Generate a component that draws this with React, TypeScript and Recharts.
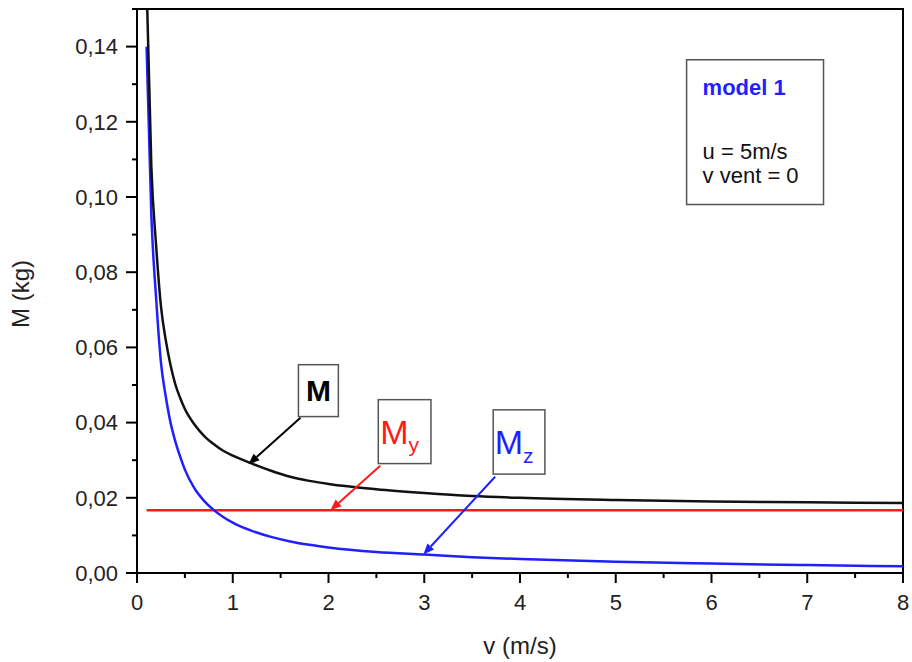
import React from 'react';
import { LineChart, Line, XAxis, YAxis, ReferenceArea, ReferenceLine } from 'recharts';

const vValues = [0.1, 0.15, 0.2, 0.25, 0.3, 0.35, 0.4, 0.45, 0.5, 0.6, 0.7, 0.8, 0.9, 1.0, 1.2, 1.4, 1.6, 1.8, 2.0, 2.5, 3.0, 3.5, 4.0, 5.0, 6.0, 7.0, 8.0];
const mValues = [0.157, 0.108, 0.087, 0.071, 0.062, 0.0553, 0.0502, 0.0466, 0.0436, 0.0395, 0.0365, 0.0343, 0.0325, 0.0312, 0.0291, 0.0272, 0.0256, 0.0245, 0.0237, 0.0223, 0.0213, 0.0205, 0.02, 0.0194, 0.019, 0.0188, 0.0186];
const myValues = [0.0167, 0.0167, 0.0167, 0.0167, 0.0167, 0.0167, 0.0167, 0.0167, 0.0167, 0.0167, 0.0167, 0.0167, 0.0167, 0.0167, 0.0167, 0.0167, 0.0167, 0.0167, 0.0167, 0.0167, 0.0167, 0.0167, 0.0167, 0.0167, 0.0167, 0.0167, 0.0167];
const mzValues = [0.14, 0.095, 0.073, 0.056, 0.047, 0.04, 0.035, 0.031, 0.0275, 0.0225, 0.0192, 0.0168, 0.0149, 0.0134, 0.0112, 0.0096, 0.0084, 0.0075, 0.0068, 0.0056, 0.0049, 0.0042, 0.0037, 0.003, 0.0025, 0.0021, 0.0018];

const xMajorTicks = [0, 1, 2, 3, 4, 5, 6, 7, 8];
const xMinorTicks = [0.5, 1.5, 2.5, 3.5, 4.5, 5.5, 6.5, 7.5];
const yMajorTicks = [0, 0.02, 0.04, 0.06, 0.08, 0.1, 0.12, 0.14];
const yMinorTicks = [0.01, 0.03, 0.05, 0.07, 0.09, 0.11, 0.13, 0.15];

const xLabel = 'v (m/s)';
const yLabel = 'M (kg)';
const infoTitle = 'model 1';
const infoLines = ['u = 5m/s', 'v vent = 0'];

const data = vValues.map((v, i) => ({ v, M: mValues[i], My: myValues[i], Mz: mzValues[i] }));

const FONT = '"Liberation Sans", Arial, sans-serif';
const BLUE = '#1f1fff';
const RED = '#ff1a1a';

const xTicks = [...xMajorTicks, ...xMinorTicks].sort((a, b) => a - b);
const yTicks = [...yMajorTicks, ...yMinorTicks].sort((a, b) => a - b);

const XTick = (props: any) => {
  const { x, y, payload } = props;
  const val = payload.value;
  const major = xMajorTicks.includes(val);
  return (
    <g>
      <line x1={x} y1={y} x2={x} y2={y + (major ? 10 : 5)} stroke="#000" strokeWidth={2} />
      {major && (
        <text x={x} y={y + 29} dy="0.35em" textAnchor="middle" fontSize={22} fontFamily={FONT} fill="#222">
          {String(val)}
        </text>
      )}
    </g>
  );
};

const YTick = (props: any) => {
  const { x, y, payload } = props;
  const val = payload.value;
  const major = yMajorTicks.some((t) => Math.abs(t - val) < 1e-9);
  return (
    <g>
      <line x1={x} y1={y} x2={x - (major ? 11 : 5)} y2={y} stroke="#000" strokeWidth={2} />
      {major && (
        <text x={x - 19} y={y} dy="0.35em" textAnchor="end" fontSize={22} fontFamily={FONT} fill="#222">
          {val.toFixed(2).replace('.', ',')}
        </text>
      )}
    </g>
  );
};

const arrowShape = (color: string) => (props: any) => {
  const { x1, y1, x2, y2 } = props;
  const dx = x2 - x1;
  const dy = y2 - y1;
  const len = Math.sqrt(dx * dx + dy * dy) || 1;
  const ux = dx / len;
  const uy = dy / len;
  const hl = 11;
  const hw = 4.5;
  const bx = x2 - ux * hl;
  const by = y2 - uy * hl;
  const px = -uy;
  const py = ux;
  return (
    <g>
      <line x1={x1} y1={y1} x2={bx} y2={by} stroke={color} strokeWidth={2} />
      <polygon points={`${x2},${y2} ${bx + px * hw},${by + py * hw} ${bx - px * hw},${by - py * hw}`} fill={color} />
    </g>
  );
};

const labelBox = (main: string, sub: string | null, color: string, bold: boolean, size: number) => (props: any) => {
  const { x, y, width, height } = props;
  return (
    <g>
      <rect x={x} y={y} width={width} height={height} fill="#fff" stroke="#555" strokeWidth={1.5} />
      <text
        x={x + width / 2 - (sub ? 5 : 0)}
        y={y + height / 2}
        dy="0.36em"
        textAnchor="middle"
        fontSize={size}
        fontWeight={bold ? 'bold' : 'normal'}
        fontFamily={FONT}
        fill={color}
      >
        {main}
        {sub && (
          <tspan fontSize={21} dy="0.4em">
            {sub}
          </tspan>
        )}
      </text>
    </g>
  );
};

const infoBox = (props: any) => {
  const { x, y, width, height } = props;
  return (
    <g>
      <rect x={x} y={y} width={width} height={height} fill="#fff" stroke="#555" strokeWidth={1.5} />
      <text x={x + 16} y={y + 35} fontSize={22} fontWeight="bold" fontFamily={FONT} fill={BLUE}>
        {infoTitle}
      </text>
      {infoLines.map((t, i) => (
        <text key={t} x={x + 16} y={y + 99 + i * 24} fontSize={22} fontFamily={FONT} fill="#111">
          {t}
        </text>
      ))}
    </g>
  );
};

const frameShape = (props: any) => {
  const { x, y, width, height } = props;
  return <rect x={x} y={y} width={width} height={height} fill="none" stroke="#000" strokeWidth={2} />;
};

export default function App() {
  return (
    <div style={{ position: 'absolute', left: 0, top: 0, width: 912, height: 662, background: '#fff' }}>
      <LineChart width={912} height={662} data={data} margin={{ top: 9, right: 9, bottom: 0, left: 0 }}>
        <XAxis
          dataKey="v"
          type="number"
          domain={[0, 8]}
          ticks={xTicks}
          interval={0}
          tickSize={0}
          tickMargin={0}
          tick={<XTick />}
          height={89}
          axisLine={{ stroke: '#000', strokeWidth: 2 }}
          tickLine={false}
          label={{
            content: (p: any) => {
              const vb = p.viewBox;
              return (
                <text x={vb.x + vb.width / 2} y={654} textAnchor="middle" fontSize={24} fontFamily={FONT} fill="#222">
                  {xLabel}
                </text>
              );
            },
          }}
        />
        <YAxis
          type="number"
          domain={[0, 0.15]}
          allowDataOverflow
          ticks={yTicks}
          interval={0}
          tickSize={0}
          tickMargin={0}
          tick={<YTick />}
          width={137}
          axisLine={{ stroke: '#000', strokeWidth: 2 }}
          tickLine={false}
          label={{
            content: () => {
              const cy = 294;
              return (
                <text x={29} y={cy} transform={`rotate(-90 29 ${cy})`} textAnchor="middle" fontSize={24} fontFamily={FONT} fill="#222">
                  {yLabel}
                </text>
              );
            },
          }}
        />
        <ReferenceArea x1={0} x2={8} y1={0} y2={0.15} shape={frameShape} />
        <Line type="monotone" dataKey="My" stroke={RED} strokeWidth={2.5} dot={false} isAnimationActive={false} />
        <Line type="monotone" dataKey="Mz" stroke={BLUE} strokeWidth={2.5} dot={false} isAnimationActive={false} />
        <Line type="monotone" dataKey="M" stroke="#111" strokeWidth={2.5} dot={false} isAnimationActive={false} />
        <ReferenceLine segment={[{ x: 1.707, y: 0.0413 }, { x: 1.164, y: 0.0289 }]} shape={arrowShape('#000')} />
        <ReferenceLine segment={[{ x: 2.54, y: 0.0285 }, { x: 2.02, y: 0.0167 }]} shape={arrowShape(RED)} />
        <ReferenceLine segment={[{ x: 3.74, y: 0.0256 }, { x: 2.99, y: 0.0049 }]} shape={arrowShape(BLUE)} />
        <ReferenceArea x1={1.686} x2={2.103} y1={0.0416} y2={0.0554} shape={labelBox('M', null, '#000', true, 30)} />
        <ReferenceArea x1={2.52} x2={3.07} y1={0.0291} y2={0.0461} shape={labelBox('M', 'y', RED, false, 34)} />
        <ReferenceArea x1={3.72} x2={4.26} y1={0.0263} y2={0.0434} shape={labelBox('M', 'z', BLUE, false, 34)} />
        <ReferenceArea x1={5.74} x2={7.17} y1={0.098} y2={0.1365} shape={infoBox} />
      </LineChart>
    </div>
  );
}
